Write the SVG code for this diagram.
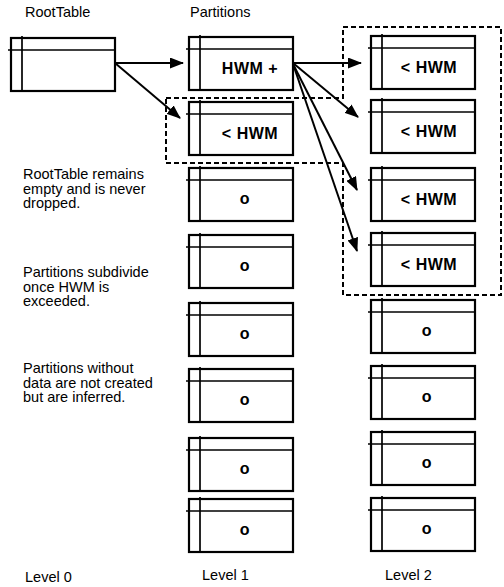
<svg xmlns="http://www.w3.org/2000/svg" xmlns:xlink="http://www.w3.org/1999/xlink" width="504" height="587" viewBox="0 0 504 587">
<style>
.bg{fill:#fff}
.lbl{font-family:"Liberation Sans",Arial,sans-serif;font-size:14.5px;fill:#000}
.in{font-family:"Liberation Sans",Arial,sans-serif;font-size:16px;font-weight:bold;fill:#000;text-anchor:middle;letter-spacing:0.5px}
.frame{fill:none;stroke:#000;stroke-width:2.2}
.div{stroke:#000;stroke-width:1.7}
.conn{stroke:#000;stroke-width:2;fill:none}
.dash{fill:none;stroke:#000;stroke-width:2;stroke-dasharray:5,3}
</style>
<defs>
<g id="tbl">
<rect class="frame" x="0" y="0" width="104" height="53"/>
<line class="div" x1="-3" y1="12" x2="104" y2="12"/>
<line class="div" x1="11" y1="-2" x2="11" y2="53"/>
</g>
<marker id="ah" viewBox="0 0 14 11" refX="13" refY="5.5" markerWidth="14" markerHeight="11" markerUnits="userSpaceOnUse" orient="auto">
<path d="M0,0 L14,5.5 L0,11 Z" fill="#000"/>
</marker>
</defs>
<rect class="bg" x="0" y="0" width="504" height="587"/>

<g id="labels">
<text class="lbl" x="25" y="17">RootTable</text>
<text class="lbl" x="190" y="17">Partitions</text>
<text class="lbl" x="23" y="179">RootTable remains</text>
<text class="lbl" x="23" y="193.5">empty and is never</text>
<text class="lbl" x="23" y="208">dropped.</text>
<text class="lbl" x="23" y="277">Partitions subdivide</text>
<text class="lbl" x="23" y="291.5">once HWM is</text>
<text class="lbl" x="23" y="306">exceeded.</text>
<text class="lbl" x="23" y="373">Partitions without</text>
<text class="lbl" x="23" y="387.5">data are not created</text>
<text class="lbl" x="23" y="402">but are inferred.</text>
<text class="lbl" x="25" y="582">Level 0</text>
<text class="lbl" x="202" y="580">Level 1</text>
<text class="lbl" x="385" y="580">Level 2</text>
</g>

<g id="groups">
<path class="dash" d="M166,98 L343,98 L343,27 L501,27 L501,295 L343,295 L343,163 L166,163 Z"/>
</g>

<g id="root"><use xlink:href="#tbl" x="11" y="38"/></g>

<g id="p1-1"><use xlink:href="#tbl" x="189" y="37"/><text class="in" x="250" y="74">HWM +</text></g>
<g id="p1-2"><use xlink:href="#tbl" x="189" y="102"/><text class="in" x="250" y="139">&lt; HWM</text></g>
<g id="p1-3"><use xlink:href="#tbl" x="189" y="168"/><text class="in" x="245" y="204">o</text></g>
<g id="p1-4"><use xlink:href="#tbl" x="189" y="235"/><text class="in" x="245" y="271">o</text></g>
<g id="p1-5"><use xlink:href="#tbl" x="189" y="303"/><text class="in" x="245" y="339">o</text></g>
<g id="p1-6"><use xlink:href="#tbl" x="189" y="369"/><text class="in" x="245" y="405">o</text></g>
<g id="p1-7"><use xlink:href="#tbl" x="189" y="438"/><text class="in" x="245" y="474">o</text></g>
<g id="p1-8"><use xlink:href="#tbl" x="189" y="499"/><text class="in" x="245" y="535">o</text></g>

<g id="p2-1"><use xlink:href="#tbl" x="371" y="36"/><text class="in" x="429" y="73">&lt; HWM</text></g>
<g id="p2-2"><use xlink:href="#tbl" x="371" y="100"/><text class="in" x="429" y="137">&lt; HWM</text></g>
<g id="p2-3"><use xlink:href="#tbl" x="371" y="168"/><text class="in" x="429" y="205">&lt; HWM</text></g>
<g id="p2-4"><use xlink:href="#tbl" x="371" y="233"/><text class="in" x="429" y="270">&lt; HWM</text></g>
<g id="p2-5"><use xlink:href="#tbl" x="371" y="300"/><text class="in" x="427" y="336">o</text></g>
<g id="p2-6"><use xlink:href="#tbl" x="371" y="366"/><text class="in" x="427" y="402">o</text></g>
<g id="p2-7"><use xlink:href="#tbl" x="371" y="432"/><text class="in" x="427" y="468">o</text></g>
<g id="p2-8"><use xlink:href="#tbl" x="371" y="498"/><text class="in" x="427" y="534">o</text></g>

<g id="connectors">
<line class="conn" x1="115" y1="63" x2="183" y2="63" marker-end="url(#ah)"/>
<line class="conn" x1="115" y1="63" x2="180" y2="118" marker-end="url(#ah)"/>
<line class="conn" x1="293" y1="63" x2="361" y2="63" marker-end="url(#ah)"/>
<line class="conn" x1="293" y1="63" x2="358" y2="117" marker-end="url(#ah)"/>
<line class="conn" x1="293" y1="64" x2="357" y2="190" marker-end="url(#ah)"/>
<line class="conn" x1="293" y1="64" x2="357" y2="251" marker-end="url(#ah)"/>
</g>
</svg>
